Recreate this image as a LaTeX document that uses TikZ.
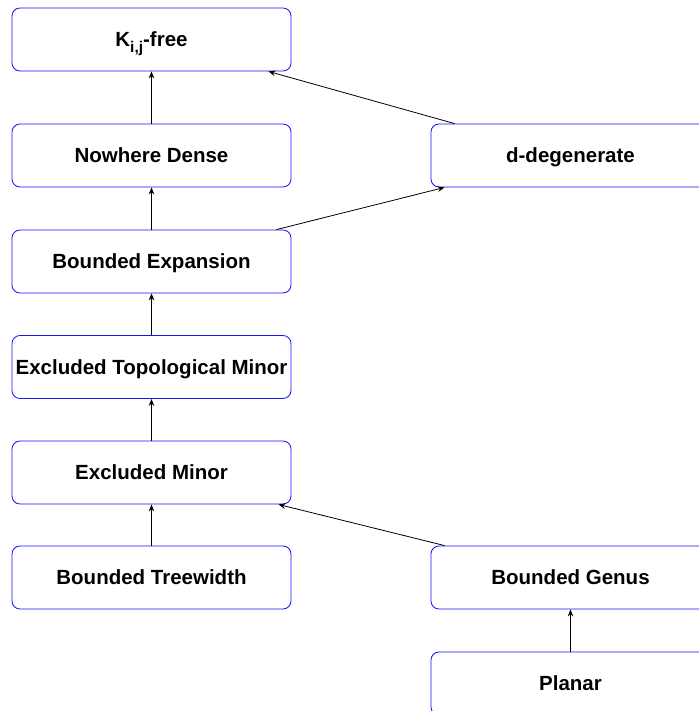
\documentclass[tikz,border=0pt]{standalone}
\usepackage{fontspec}
\setmainfont{Liberation Sans}
\usetikzlibrary{arrows.meta}
\definecolor{boxblue}{RGB}{20,20,255}
\newcommand{\lowsub}[1]{\raisebox{-5.5pt}{\fontsize{15.5}{16}\selectfont #1}}
\tikzset{
  classbox/.style={draw=boxblue, line width=0.85pt, rounded corners=8pt, fill=white,
    minimum width=279pt, minimum height=63pt, inner sep=0pt,
    text height=14.7pt, text depth=0pt,
    font=\fontsize{20.5}{22}\selectfont\bfseries},
  implies/.style={draw=black, line width=0.8pt, -{Stealth[length=7pt,width=5.5pt]}}
}
\begin{document}
\begin{tikzpicture}[x=1pt,y=-1pt]
  \useasboundingbox (0,0) rectangle (699,711);
  \begin{scope}
    \clip (0,0) rectangle (699,711);
    % left column
    \node[classbox] (K)   at (151.5,39.5)  {K\lowsub{i,j}-free};
    \node[classbox] (ND)  at (151.5,155.5) {Nowhere Dense};
    \node[classbox] (BE)  at (151.5,261.5) {Bounded Expansion};
    \node[classbox] (ETM) at (151.5,367)   {Excluded Topological Minor};
    \node[classbox] (EM)  at (151.5,472.5) {Excluded Minor};
    \node[classbox] (BT)  at (151.5,577.5) {Bounded Treewidth};
    % right column
    \node[classbox] (DD)  at (570.5,155.5) {d-degenerate};
    \node[classbox] (BG)  at (570.5,577.5) {Bounded Genus};
    \node[classbox] (PL)  at (570.5,683.5) {Planar};
    % implications
    \draw[implies] (ND) -- (K);
    \draw[implies] (BE) -- (ND);
    \draw[implies] (ETM) -- (BE);
    \draw[implies] (EM) -- (ETM);
    \draw[implies] (BT) -- (EM);
    \draw[implies] (PL) -- (BG);
    \draw[implies] ([xshift=24pt]DD.north west) -- ([xshift=-23pt]K.south east);
    \draw[implies] ([xshift=-15pt]BE.north east) -- ([xshift=14pt]DD.south west);
    \draw[implies] ([xshift=14pt]BG.north west) -- ([xshift=-13pt]EM.south east);
  \end{scope}
\end{tikzpicture}
\end{document}
